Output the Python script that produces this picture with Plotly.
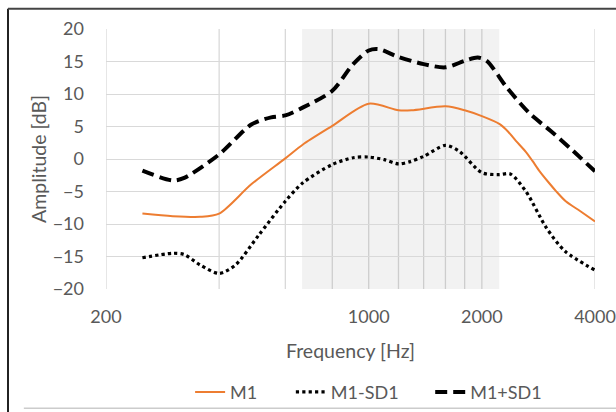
import plotly.graph_objects as go

# Data
freq_m1 = [250, 301, 356, 400, 487, 600, 667, 800, 1000, 1200, 1300, 1600, 1800, 2000, 2226, 2350, 2464, 2618, 2727, 2850, 3000, 3146, 3344, 3650, 4000]
m1 = [-8.4, -8.8, -8.9, -8.4, -3.9, 0.1, 2.2, 5.1, 8.5, 7.5, 7.5, 8.1, 7.5, 6.6, 5.4, 4.2, 2.8, 1.1, -0.3, -1.9, -3.5, -4.9, -6.5, -8.0, -9.6]

freq_plus = [250, 301, 323, 400, 487, 550, 600, 667, 800, 909, 1000, 1063, 1200, 1400, 1600, 1800, 1950, 2060, 2330, 2670, 3050, 3430, 4000]
m1_plus = [-1.8, -3.3, -2.9, 0.7, 5.3, 6.4, 6.7, 7.9, 10.5, 14.6, 16.7, 16.9, 15.7, 14.6, 14.1, 15.1, 15.6, 15.1, 11.0, 7.1, 4.3, 1.7, -1.9]

freq_minus = [250, 301, 323, 356, 400, 442, 510, 600, 667, 800, 909, 1000, 1100, 1200, 1290, 1400, 1600, 1740, 2000, 2220, 2380, 2620, 2970, 3330, 4000]
m1_minus = [-15.2, -14.5, -14.7, -16.3, -17.6, -16.3, -11.7, -6.5, -3.7, -0.85, 0.2, 0.3, -0.1, -0.75, -0.4, 0.4, 2.1, 1.2, -2.1, -2.4, -2.3, -5.0, -10.6, -14.2, -17.1]

x_tick_vals = [200, 1000, 2000, 4000]
x_tick_text = ["200", "1000", "2000", "4000"]
x_grid_vals = [200, 400, 600, 800, 1000, 1200, 1400, 1600, 1800, 2000, 4000]
band = [665, 2225]

FONT = "Lato, 'Open Sans', sans-serif"
GRAY = "#595959"
GRID = "#d9d9d9"
FS = 18
FS_TITLE = 19.5

fig = go.Figure()
fig.add_trace(go.Scatter(x=freq_m1, y=m1, name="M1", mode="lines", legend="legend",
                         line=dict(color="#ED7D31", width=2, shape="spline", smoothing=0.8)))
fig.add_trace(go.Scatter(x=freq_minus, y=m1_minus, name="M1-SD1", mode="lines", legend="legend2",
                         line=dict(color="#000000", width=3.2, dash="dot", shape="spline", smoothing=0.8)))
fig.add_trace(go.Scatter(x=freq_plus, y=m1_plus, name="M1+SD1", mode="lines", legend="legend3",
                         line=dict(color="#000000", width=4, dash="12px,6px", shape="spline", smoothing=0.8)))

shapes = [dict(type="rect", xref="x", yref="y", x0=band[0], x1=band[1], y0=-20, y1=20,
               fillcolor="#f2f2f2", line=dict(width=0), layer="below")]
for gx in x_grid_vals:
    inside = band[0] < gx < band[1]
    shapes.append(dict(type="line", xref="x", yref="y", x0=gx, x1=gx, y0=-20, y1=20,
                       line=dict(color="#cdcdcd" if inside else GRID, width=1.3), layer="below"))
# chart outer borders
shapes.append(dict(type="line", xref="paper", yref="paper", x0=-0.2004, x1=-0.2004, y0=1.078, y1=-0.5,
                   line=dict(color="#222222", width=2)))
shapes.append(dict(type="line", xref="paper", yref="paper", x0=-0.2004, x1=1.1, y0=1.078, y1=1.078,
                   line=dict(color="#444444", width=2)))
shapes.append(dict(type="line", xref="paper", yref="paper", x0=-0.168, x1=1.1, y0=-0.459, y1=-0.459,
                   line=dict(color="#cccccc", width=1.5)))

leg_common = dict(orientation="h", xanchor="left", y=-0.397, yanchor="middle",
                  bgcolor="rgba(0,0,0,0)", font=dict(size=FS, color=GRAY))

fig.update_layout(
    width=616, height=423,
    margin=dict(l=106, r=21, t=29, b=128),
    paper_bgcolor="white", plot_bgcolor="white",
    font=dict(family=FONT, color=GRAY, size=FS),
    shapes=shapes,
    showlegend=True,
    legend=dict(x=0.172, **leg_common),
    legend2=dict(x=0.378, **leg_common),
    legend3=dict(x=0.663, **leg_common),
    xaxis=dict(type="log", range=[2.30103, 3.60206], tickvals=x_tick_vals, ticktext=x_tick_text,
               showgrid=False, zeroline=False, showline=False, ticks="", ticklabelstandoff=15,
               automargin=False,
               tickfont=dict(size=FS, color=GRAY),
               title=dict(text="Frequency [Hz]", font=dict(size=FS_TITLE, color=GRAY), standoff=18)),
    yaxis=dict(range=[-20, 20], dtick=5, tick0=0, showgrid=True, gridcolor=GRID, gridwidth=1.3,
               zeroline=False, showline=False, ticks="", ticklabelstandoff=21,
               automargin=False,
               tickfont=dict(size=FS, color=GRAY),
               title=dict(text="Amplitude [dB]", font=dict(size=FS_TITLE, color=GRAY), standoff=0)),
)

fig.write_html("out.html", config={"displayModeBar": False},
               post_script="document.documentElement.style.margin='0';document.body.style.margin='0';"
                           "document.body.style.overflow='hidden';document.documentElement.style.overflow='hidden';")
